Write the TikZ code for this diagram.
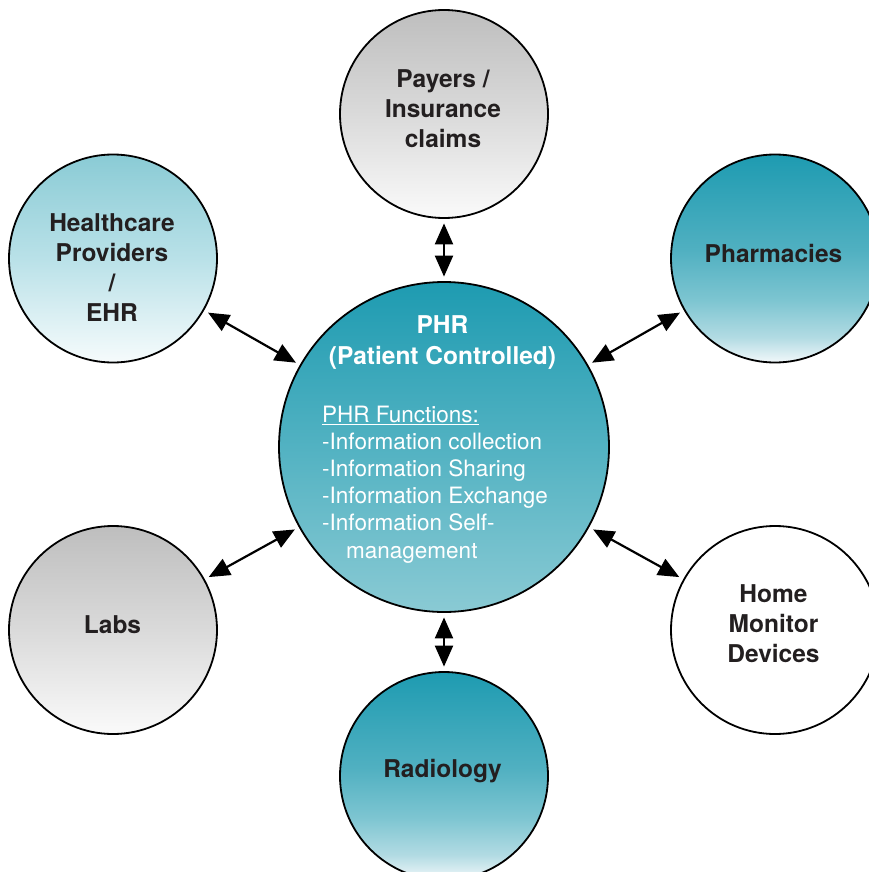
\documentclass[tikz,border=0pt]{standalone}
\usepackage{fontspec}
\setmainfont{TeX Gyre Heros}
\usetikzlibrary{arrows.meta}
\definecolor{txt}{RGB}{35,31,32}
\definecolor{tealA}{RGB}{30,155,177}
\definecolor{tealB}{RGB}{80,176,193}
\definecolor{tealC}{RGB}{125,197,209}
\definecolor{tealD}{RGB}{178,219,227}
\definecolor{tealE}{RGB}{242,248,250}
\definecolor{hubBot}{RGB}{138,202,212}
\definecolor{hubMid}{RGB}{82,178,194}
\definecolor{hcTop}{RGB}{138,203,213}
\definecolor{hcMid}{RGB}{185,225,232}
\definecolor{hcBot}{RGB}{246,251,252}
\definecolor{gTop}{RGB}{190,190,190}
\definecolor{gMid}{RGB}{218,218,218}
\definecolor{gBot}{RGB}{250,250,250}
\pgfdeclareverticalshading{tealfade}{100bp}{color(0bp)=(tealE); color(25bp)=(tealE); color(31bp)=(tealD); color(40bp)=(tealC); color(52bp)=(tealB); color(75bp)=(tealA); color(100bp)=(tealA)}
\pgfdeclareverticalshading{hubfade}{100bp}{color(0bp)=(hubBot); color(25bp)=(hubBot); color(50bp)=(hubMid); color(75bp)=(tealA); color(100bp)=(tealA)}
\pgfdeclareverticalshading{hcfade}{100bp}{color(0bp)=(hcBot); color(25bp)=(hcBot); color(50bp)=(hcMid); color(75bp)=(hcTop); color(100bp)=(hcTop)}
\pgfdeclareverticalshading{grayfade}{100bp}{color(0bp)=(gBot); color(25bp)=(gBot); color(50bp)=(gMid); color(75bp)=(gTop); color(100bp)=(gTop)}
\begin{document}
\begin{tikzpicture}[x=1pt,y=1pt,
  bub/.style={circle,draw=black,line width=1.8pt,minimum size=208pt,inner sep=0pt},
  hub/.style={circle,draw=black,line width=1.8pt,minimum size=330pt,inner sep=0pt},
  lbl/.style={font=\fontsize{24.5}{30}\selectfont\bfseries,text=txt,align=center,inner sep=0pt},
  link/.style={{Triangle[length=21pt,width=18pt]}-{Triangle[length=21pt,width=18pt]},line width=2.2pt,shorten <=4.5pt,shorten >=4.5pt}]
\useasboundingbox (0,0) rectangle (869,-872);
\clip (0,0) rectangle (869,-872);
% circles
\node[hub,shading=hubfade] (phr) at (444,-447) {};
\node[bub,shading=grayfade] (pay) at (444,-114) {};
\node[bub,shading=hcfade] (hc) at (113,-258.5) {};
\node[bub,shading=tealfade] (pha) at (775,-258.5) {};
\node[bub,shading=grayfade] (lab) at (113,-630) {};
\node[bub,fill=white] (hom) at (775,-630) {};
\node[bub,shading=tealfade] (rad) at (444,-776) {};
% labels
\node[lbl] (payT) at (443,-108.5) {Payers /\\Insurance\\claims};
\node[lbl] (hcT) at (112,-268) {Healthcare\\Providers\\/\\EHR};
\node[lbl] (phaT) at (773.5,-253) {Pharmacies};
\node[lbl] (labT) at (112.5,-625) {Labs};
\node[lbl] (homT) at (773.5,-623.5) {Home\\Monitor\\Devices};
\node[lbl] (radT) at (442.5,-771) {Radiology};
\node[lbl,text=white,font=\fontsize{24.5}{31}\selectfont\bfseries] (phrT) at (442.5,-342.5) {PHR\\(Patient Controlled)};
\node[anchor=north west,inner sep=0pt,text=white,align=left,font=\fontsize{22.5}{27.2}\selectfont] (fun) at (322,-405.5)
  {\underline{PHR Functions:}\\-Information collection\\-Information Sharing\\-Information Exchange\\-Information Self-\\\hspace*{24pt}management};
% connectors
\draw[link] (pay) -- (phr);
\draw[link] (phr) -- (rad);
\draw[link] (hc) -- (phr);
\draw[link] (pha) -- (phr);
\draw[link] (lab) -- (phr);
\draw[link] (hom) -- (phr);
\end{tikzpicture}
\end{document}
